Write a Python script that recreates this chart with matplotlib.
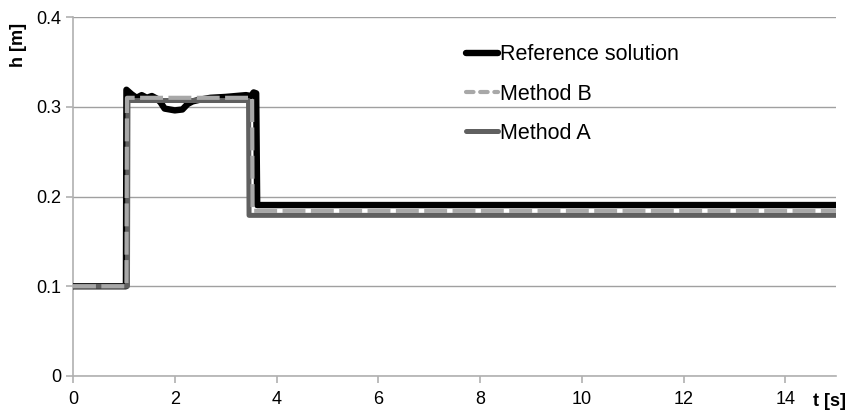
import matplotlib
matplotlib.use("Agg")
import matplotlib.pyplot as plt

# time series
ref_t = [0, 1.04, 1.05, 1.15, 1.25, 1.35, 1.45, 1.55, 1.65, 1.72, 1.8, 2.0, 2.15,
         2.25, 2.35, 2.5, 2.7, 3.0, 3.2, 3.4, 3.5, 3.55, 3.6, 3.62, 15]
ref_h = [0.1, 0.1, 0.319, 0.314, 0.31, 0.313, 0.31, 0.312, 0.309, 0.305, 0.298,
         0.296, 0.297, 0.303, 0.306, 0.308, 0.31, 0.311, 0.312, 0.313, 0.312,
         0.316, 0.315, 0.1905, 0.1905]

b_t = [0, 1.05, 1.06, 3.52, 3.53, 15]
b_h = [0.1, 0.1, 0.31, 0.31, 0.184, 0.184]

a_t = [0, 1.07, 1.08, 3.45, 3.46, 15]
a_h = [0.1, 0.1, 0.307, 0.307, 0.179, 0.179]

plt.rcParams['font.family'] = ['Liberation Sans', 'DejaVu Sans']

fig = plt.figure(figsize=(8.55, 4.16), dpi=100)
ax = fig.add_axes([0.0854, 0.0962, 0.8926, 0.8628])

l_ref, = ax.plot(ref_t, ref_h, color='black', lw=4.6, solid_joinstyle='round',
                 label='Reference solution', zorder=3)
l_a, = ax.plot(a_t, a_h, color='#606060', lw=3.6, label='Method A', zorder=4)
l_b, = ax.plot(b_t, b_h, color='#a8a8a8', lw=3.0, dashes=(5.5, 1.3),
               label='Method B', zorder=5)

ax.set_xlim(0, 15)
ax.set_ylim(0, 0.4)
ax.set_xticks(range(0, 15, 2))
ax.set_yticks([0, 0.1, 0.2, 0.3, 0.4])
ax.set_yticklabels(['0', '0.1', '0.2', '0.3', '0.4'])
ax.yaxis.grid(True, color='#a0a0a0', lw=1)
ax.set_axisbelow(True)
for s in ['top', 'right']:
    ax.spines[s].set_visible(False)
for s in ['left', 'bottom']:
    ax.spines[s].set_color('#b0b0b0')
    ax.spines[s].set_linewidth(1.2)
ax.tick_params(axis='both', colors='#b0b0b0', labelcolor='black',
               labelsize=13, length=5, width=1.2)
ax.tick_params(axis='x', pad=6)

fig.text(0.012, 0.893, 'h [m]', rotation=90, fontsize=13, fontweight='bold',
         ha='left', va='center')
fig.text(0.99, 0.035, 't [s]', fontsize=13, fontweight='bold',
         ha='right', va='center')

leg = ax.legend([l_ref, l_b, l_a], ['Reference solution', 'Method B', 'Method A'],
                loc='upper left', bbox_to_anchor=(0.49, 0.978), frameon=False,
                fontsize=15.5, handlelength=1.45, handletextpad=0.1,
                labelspacing=0.85)
for h in leg.legend_handles:
    h.set_solid_capstyle('round')
    h.set_dash_capstyle('round')
leg.legend_handles[1].set_dashes((1.8, 1.6))

fig.savefig('out.png', dpi=100)
